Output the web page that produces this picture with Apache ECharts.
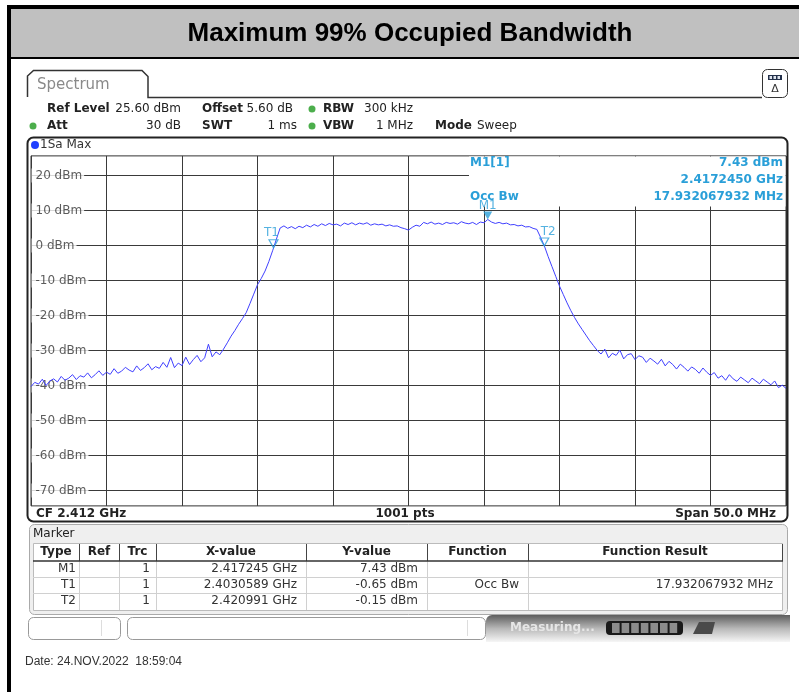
<!DOCTYPE html>
<html>
<head>
<meta charset="utf-8">
<script src="https://cdn.jsdelivr.net/npm/echarts@6/dist/echarts.min.js"></script>
<style>
html, body { margin: 0; padding: 0; background: #fff; }
#main { width: 799px; height: 692px; }
</style>
</head>
<body>
<div id="main"></div>
<script>
// sweep: 2.387 GHz .. 2.437 GHz (CF 2.412 GHz, span 50 MHz), x axis in MHz from start
var startMHz = 2387;
var stepMHz = 0.25;

// trace 1 (Sa Max), dBm, one value every 0.25 MHz
var traceDbm = [
  -40.3, -39.1, -39.6, -38.2, -40.0, -38.7, -38.1, -39.0, -37.4, -38.5,
  -37.9, -36.9, -38.3, -37.2, -37.6, -36.4, -37.8, -36.9, -35.8, -37.1,
  -36.2, -36.8, -35.2, -36.5, -35.9, -34.8, -35.6, -36.1, -34.4, -35.7,
  -34.9, -33.8, -35.5, -34.6, -35.1, -33.4, -34.8, -32.0, -34.9, -33.6,
  -34.3, -31.9, -34.0, -32.6, -31.4, -33.2, -32.1, -28.2, -31.8, -30.4,
  -31.2, -29.6, -27.8, -25.9, -24.3, -22.5, -20.9, -19.2, -16.6, -13.9,
  -11.2, -9.4, -7.3, -4.6, -1.5, 1.8, 5.0, 5.6, 4.9, 5.4,
  4.8, 5.5, 5.1, 5.8, 5.3, 6.0, 5.5, 6.2, 5.7, 6.3,
  5.9, 6.1, 5.6, 6.4, 6.0, 6.5, 5.9, 6.4, 6.1, 6.5,
  5.8, 6.2, 5.9, 6.1, 5.6, 5.9, 5.5, 5.6, 5.1, 4.8,
  4.4, 5.2, 5.8, 5.5, 6.6, 6.2, 6.7, 6.1, 6.4, 6.0,
  6.6, 6.3, 6.5, 6.1, 6.8, 6.4, 6.2, 6.6, 6.0, 6.7,
  6.5, 7.43, 6.7, 6.3, 6.6, 6.2, 6.4, 5.9, 6.0, 5.6,
  5.8, 5.3, 5.4, 4.9, 4.6, 2.3, -0.15, -3.2, -6.0, -8.8,
  -11.6, -14.0, -16.4, -18.6, -20.6, -22.4, -24.0, -25.6, -27.2, -28.6,
  -30.0, -31.0, -29.6, -32.1, -30.8, -31.4, -29.9, -32.4, -31.2, -30.9,
  -32.6, -31.5, -31.9, -33.4, -32.2, -33.0, -33.9, -32.5, -34.4, -33.1,
  -34.0, -35.3, -33.9, -34.8, -35.9, -34.7, -35.4, -36.5, -35.0, -36.2,
  -37.1, -36.3, -37.9, -37.2, -38.5, -36.9, -38.1, -38.8, -37.6, -38.4,
  -39.2, -37.9, -38.7, -39.5, -38.2, -39.0, -39.8, -38.7, -40.6, -39.9,
  -40.8
];

var yTicks = [20, 10, 0, -10, -20, -30, -40, -50, -60, -70];

var markerNames = ['M1', 'T1', 'T2'];
var markerGHz = [2.417245, 2.4030589, 2.420991];
var markerDbm = [7.43, -0.65, -0.15];

var tableHead = ['Type', 'Ref', 'Trc', 'X-value', 'Y-value', 'Function', 'Function Result'];
var tableRows = [
  ['M1', '', '1', '2.417245 GHz', '7.43 dBm', '', ''],
  ['T1', '', '1', '2.4030589 GHz', '-0.65 dBm', 'Occ Bw', '17.932067932 MHz'],
  ['T2', '', '1', '2.420991 GHz', '-0.15 dBm', '', '']
];

var chart = echarts.init(document.getElementById('main'));
var FONT = 'DejaVu Sans';
var CYAN = '#2a9fd8';

// ---- screen chrome (graphic) ----
var g = [];
function txt(x, y, s, o) {
  o = o || {};
  var al = o.align || 'left';
  g.push({
    type: 'text', x: x, y: y, z: o.z || 20, silent: true,
    style: {
      text: s, fill: o.color || '#222',
      font: (o.bold ? 'bold ' : '') + (o.size || 12) + 'px ' + (o.family || FONT),
      align: al, verticalAlign: 'middle', textAlign: al, textVerticalAlign: 'middle'
    }
  });
}
function box(x, y, w, h, o) {
  g.push({
    type: 'rect', z: o.z || 10, silent: true,
    shape: { x: x, y: y, width: w, height: h, r: o.r || 0 },
    style: { fill: o.fill || 'none', stroke: o.stroke || 'none', lineWidth: o.lw || 1 }
  });
}
function seg(x1, y1, x2, y2, col, lw) {
  g.push({
    type: 'line', z: 12, silent: true,
    shape: { x1: x1, y1: y1, x2: x2, y2: y2 },
    style: { stroke: col, lineWidth: lw || 1 }
  });
}
function dot(x, y, col, r) {
  g.push({ type: 'circle', z: 12, silent: true, shape: { cx: x, cy: y, r: r || 3.5 }, style: { fill: col } });
}

// outer frame + title bar
box(9, 7, 800, 700, { stroke: '#000', lw: 4 });
box(11, 9, 790, 48, { fill: '#c0c0c0' });
seg(11, 58, 799, 58, '#000', 2);
txt(410, 34, 'Maximum 99% Occupied Bandwidth', { bold: true, size: 26, family: 'Liberation Sans', color: '#000', align: 'center' });

// tab + icon
g.push({
  type: 'polyline', z: 10, silent: true,
  shape: { points: [[27.5, 97], [27.5, 76], [33.5, 70.5], [142, 70.5], [148, 76.5], [148, 97.5], [762, 97.5]] },
  style: { stroke: '#333', lineWidth: 1.5, fill: 'none' }
});
txt(37, 85, 'Spectrum', { size: 15, color: '#8a8a8a' });
box(762.5, 69.5, 25, 28, { r: 5, stroke: '#333', fill: '#fff' });
box(768, 75, 14, 5, { fill: '#23304a', z: 11 });
for (var s = 0; s < 3; s++) box(769.5 + s * 4, 76, 2.5, 3, { fill: '#dfe4ee', z: 12 });
txt(775, 89, '\u0394', { size: 11, align: 'center', color: '#333' });

// setting lines
txt(47, 109, 'Ref Level', { bold: true });
txt(181, 109, '25.60 dBm', { align: 'right' });
txt(202, 109, 'Offset', { bold: true });
txt(293, 109, '5.60 dB', { align: 'right' });
dot(312, 109, '#4cae4c');
txt(323, 109, 'RBW', { bold: true });
txt(413, 109, '300 kHz', { align: 'right' });
dot(33, 126, '#4cae4c');
txt(47, 126, 'Att', { bold: true });
txt(181, 126, '30 dB', { align: 'right' });
txt(202, 126, 'SWT', { bold: true });
txt(297, 126, '1 ms', { align: 'right' });
dot(312, 126, '#4cae4c');
txt(323, 126, 'VBW', { bold: true });
txt(413, 126, '1 MHz', { align: 'right' });
txt(435, 126, 'Mode', { bold: true });
txt(477, 126, 'Sweep');

// plot frame
box(27.5, 137.5, 760, 384, { r: 6, stroke: '#222', lw: 2 });
dot(35, 145, '#1f3fff', 4);
txt(40, 145, '1Sa Max', { color: '#333' });
txt(36, 514, 'CF 2.412 GHz', { bold: true });
txt(405, 514, '1001 pts', { bold: true, align: 'center' });
txt(776, 514, 'Span 50.0 MHz', { bold: true, align: 'right' });

// marker readout (white box hides the grid beneath it)
g.push({
  type: 'rect', z: 1.5, silent: true,
  shape: { x: 469, y: 156.5, width: 316.5, height: 50 },
  style: { fill: '#fff', stroke: 'none' }
});
txt(470, 163, 'M1[1]', { bold: true, color: CYAN });
txt(783, 163, markerDbm[0].toFixed(2) + ' dBm', { bold: true, color: CYAN, align: 'right' });
txt(783, 180, markerGHz[0].toFixed(7) + ' GHz', { bold: true, color: CYAN, align: 'right' });
txt(470, 197, 'Occ Bw', { bold: true, color: CYAN });
txt(783, 197, '17.932067932 MHz', { bold: true, color: CYAN, align: 'right' });

// marker table
box(29.5, 524.5, 758, 90, { r: 5, stroke: '#aaa', fill: '#efefef' });
txt(33, 534, 'Marker', { color: '#222' });
box(33.5, 543.5, 749, 67, { fill: '#fff', stroke: '#bbb' });
var colX = [33, 79, 119, 156, 306, 427, 528, 782];
var rowY = [569, 585, 601];
for (var c = 0; c < tableHead.length; c++) {
  txt((colX[c] + colX[c + 1]) / 2, 552, tableHead[c], { bold: true, align: 'center' });
  if (c > 0) {
    seg(colX[c] + 0.5, 544, colX[c] + 0.5, 561, '#444', 1);
    seg(colX[c] + 0.5, 561, colX[c] + 0.5, 610, '#d0d0d0', 1);
  }
}
seg(782.5, 544, 782.5, 561, '#444', 1);
seg(33, 561, 783, 561, '#333', 1.5);
seg(33, 577.5, 782, 577.5, '#d0d0d0', 1);
seg(33, 593.5, 782, 593.5, '#d0d0d0', 1);
var padR = [3, 8, 6, 9, 9, 9, 9];
tableRows.forEach(function (row, r) {
  row.forEach(function (cell, c) {
    if (cell) txt(colX[c + 1] - padR[c], rowY[r], cell, { align: 'right', color: '#333' });
  });
});

// status bar
box(28.5, 617.5, 92, 22, { r: 5, stroke: '#999', fill: '#fff' });
seg(101.5, 620, 101.5, 636, '#ddd', 1);
box(127.5, 617.5, 358, 22, { r: 5, stroke: '#999', fill: '#fff' });
seg(467.5, 620, 467.5, 636, '#ddd', 1);
box(486, 615, 304, 27, {
  r: [6, 0, 0, 0],
  fill: { type: 'linear', x: 0, y: 0, x2: 0, y2: 1,
    colorStops: [{ offset: 0, color: '#5e5e5e' }, { offset: 0.5, color: '#b8b8b8' }, { offset: 1, color: '#f6f6f6' }] }
});
txt(510, 628, 'Measuring...', { bold: true, color: '#e6e6e6' });
box(606, 621, 77, 14, { r: 4, fill: '#1a1a1a', z: 11 });
for (var k = 0; k < 7; k++) box(612 + k * 9.6, 623, 7.6, 10, { fill: '#8c8c8c', z: 12 });
g.push({
  type: 'polygon', z: 11, silent: true,
  shape: { points: [[693, 634], [699, 622], [715, 622], [712, 634]] },
  style: { fill: '#4a4a4a' }
});

txt(25, 662, 'Date: 24.NOV.2022  18:59:04', { family: 'Liberation Sans', color: '#333' });

// ---- series ----
var traceData = traceDbm.map(function (v, i) { return [i * stepMHz, v]; });

var series = yTicks.map(function (v) {
  return {
    type: 'line', silent: true, z: 1, symbol: 'none',
    data: [[0, v], [50, v]],
    lineStyle: { color: '#3a3a3a', width: 1 }
  };
});

series.push({
  type: 'scatter', silent: true, z: 2, symbolSize: 1,
  itemStyle: { color: 'rgba(0,0,0,0)' },
  data: yTicks.map(function (v) { return [0, v]; }),
  label: {
    show: true, position: 'right', distance: 0,
    formatter: function (p) { return p.value[1] + ' dBm'; },
    color: '#333', fontFamily: FONT, fontSize: 12,
    backgroundColor: '#fff', padding: [1, 2, 1, 4]
  }
});

series.push({
  type: 'line', name: '1Sa Max', z: 3, silent: true,
  showSymbol: false, symbol: 'none',
  data: traceData,
  lineStyle: { color: '#4040ff', width: 1 }
});

var labelShift = [[0, 0], [-2, 0], [4, 0]];
series.push({
  type: 'scatter', z: 4, silent: true,
  symbol: 'triangle', symbolRotate: 180, symbolSize: [9, 8], symbolOffset: [0, -4],
  data: markerNames.map(function (n, i) {
    return {
      name: n,
      value: [markerGHz[i] * 1000 - startMHz, markerDbm[i]],
      itemStyle: i === 0 ? { color: CYAN } : { color: 'rgba(0,0,0,0)', borderColor: CYAN, borderWidth: 1.2 },
      label: { offset: labelShift[i] }
    };
  }),
  label: {
    show: true, position: 'top', distance: 0,
    formatter: '{b}', color: CYAN, fontFamily: FONT, fontSize: 12
  }
});

var option = {
  animation: false,
  backgroundColor: '#fff',
  grid: { left: 31, top: 155.9, width: 755, height: 350, show: true, borderColor: '#333', borderWidth: 1 },
  xAxis: {
    type: 'value', min: 0, max: 50, interval: 5,
    axisLine: { show: false }, axisTick: { show: false }, axisLabel: { show: false },
    splitLine: { show: true, lineStyle: { color: '#3a3a3a', width: 1 } }
  },
  yAxis: {
    type: 'value', min: -74.4, max: 25.6,
    axisLine: { show: false }, axisTick: { show: false }, axisLabel: { show: false },
    splitLine: { show: false }
  },
  graphic: { elements: g },
  series: series
};

option && chart.setOption(option);
</script>
</body>
</html>
